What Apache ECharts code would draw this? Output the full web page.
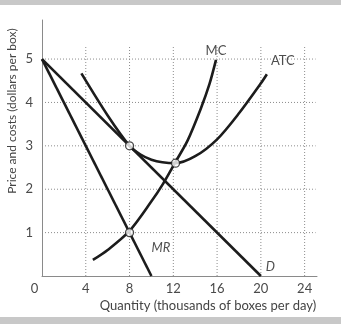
<!DOCTYPE html>
<html><head><meta charset="utf-8">
<script src="https://cdn.jsdelivr.net/npm/echarts@6/dist/echarts.min.js"></script>
<style>html,body{margin:0;padding:0;background:#fff}#c{width:341px;height:324px}</style>
</head><body><div id="c"></div>
<script>
// ---- data ----
const xTicks = [0, 4, 8, 12, 16, 20, 24];
const yTicks = [0, 1, 2, 3, 4, 5];
const xGridTicks = [4, 8, 12, 16, 20, 24];
const yGridTicks = [1, 2, 3, 4, 5];
const demand = [[0, 5], [20, 0]];
const marginalRevenue = [[0, 5], [10, 0]];
const marginalCost = [[4.65, 0.37], [6, 0.6], [8, 1.04], [10, 1.72], [11, 2.1], [12.2, 2.63], [13.3, 3.12], [14.5, 3.85], [15.3, 4.42], [15.9, 4.98]];
const averageTotalCost = [[3.6, 4.67], [6, 3.7], [8, 3.0], [9, 2.8], [10, 2.68], [11, 2.62], [12.2, 2.6], [14, 2.76], [16, 3.15], [18, 3.75], [20, 4.44], [20.55, 4.65]];
const keyPoints = [[8, 3], [8, 1], [12.2, 2.6]];
const xTitle = 'Quantity (thousands of boxes per day)';
const yTitle = 'Price and costs (dollars per box)';

// ---- chart ----
const FONT = 'Lato';
const INK = '#1c1c1c';
const gridTopValue = 5.32, gridRightValue = 25;
const last = a => a[a.length - 1];

const gridSeries = [];
xGridTicks.forEach(t => gridSeries.push({
  type: 'line', data: [[t, 0], [t, gridTopValue]], symbol: 'none', silent: true, z: 1,
  lineStyle: { color: '#8c8c8c', width: 1, type: [1, 2] }
}));
yGridTicks.forEach(t => gridSeries.push({
  type: 'line', data: [[0, t], [gridRightValue, t]], symbol: 'none', silent: true, z: 1,
  lineStyle: { color: '#8c8c8c', width: 1, type: [1, 2] }
}));

function curve(data, smooth) {
  return { type: 'line', data, symbol: 'none', smooth: smooth || false, z: 3,
    lineStyle: { color: INK, width: 2.6 } };
}
function tag(point, text, opts) {
  return Object.assign({ value: point, label: Object.assign({ show: true, formatter: text,
    color: '#222', fontFamily: FONT, fontSize: 13 }, opts) });
}

const chart = echarts.init(document.getElementById('c'), null, { renderer: 'canvas' });
chart.setOption({
  animation: false,
  backgroundColor: '#fff',
  grid: { left: 42, right: 24, top: 20, bottom: 48, containLabel: false },
  xAxis: {
    type: 'value', min: 0, max: 25.13, interval: 4,
    axisLine: { lineStyle: { color: '#8a8a8a', width: 1 } },
    axisTick: { show: false }, splitLine: { show: false },
    axisLabel: {
      margin: 6, color: '#4a4a4a', fontFamily: FONT, fontSize: 13,
      formatter: v => v === 0 ? '{z|0}' : (xTicks.includes(v) ? String(v) : ''),
      rich: { z: { padding: [0, 15, 0, 0], color: '#4a4a4a', fontFamily: FONT, fontSize: 13 } }
    }
  },
  yAxis: {
    type: 'value', min: 0, max: 5.9, interval: 1,
    axisLine: { show: true, lineStyle: { color: '#8a8a8a', width: 1 } },
    axisTick: { show: false }, splitLine: { show: false },
    axisLabel: {
      margin: 9, color: '#4a4a4a', fontFamily: FONT, fontSize: 13,
      formatter: v => (v !== 0 && yTicks.includes(v)) ? String(v) : ''
    }
  },
  graphic: [
    { type: 'rect', shape: { x: 0, y: 0, width: 341, height: 5 }, style: { fill: '#c8c8c8' } },
    { type: 'rect', shape: { x: 0, y: 317, width: 341, height: 7 }, style: { fill: '#c8c8c8' } },
    { type: 'text', x: 208, y: 306, style: { text: xTitle, fill: '#444', font: '13px ' + FONT, align: 'center', verticalAlign: 'middle' } },
    { type: 'text', x: 12, y: 111, rotation: Math.PI / 2, style: { text: yTitle, fill: '#444', font: '12px ' + FONT, align: 'center', verticalAlign: 'middle' } }
  ],
  series: gridSeries.concat([
    curve(demand),
    curve(marginalRevenue),
    curve(marginalCost, 0.3),
    curve(averageTotalCost, 0.3),
    {
      type: 'scatter', z: 5, symbol: 'circle', symbolSize: 8, data: keyPoints,
      itemStyle: { color: '#fff', borderColor: INK, borderWidth: 1.3 }
    },
    {
      type: 'scatter', z: 6, symbolSize: 0, itemStyle: { color: 'transparent' }, silent: true,
      data: [
        tag(last(marginalCost), 'MC', { position: 'top', distance: 3 }),
        tag(last(averageTotalCost), 'ATC', { position: 'right', distance: 4, offset: [0, -13] }),
        tag(last(demand), 'D', { position: 'right', distance: 5, offset: [0, -9], fontStyle: 'italic' }),
        tag(last(marginalRevenue), 'MR', { position: 'right', distance: 5, offset: [-5, -28], fontStyle: 'italic' })
      ]
    }
  ])
});
</script></body></html>
